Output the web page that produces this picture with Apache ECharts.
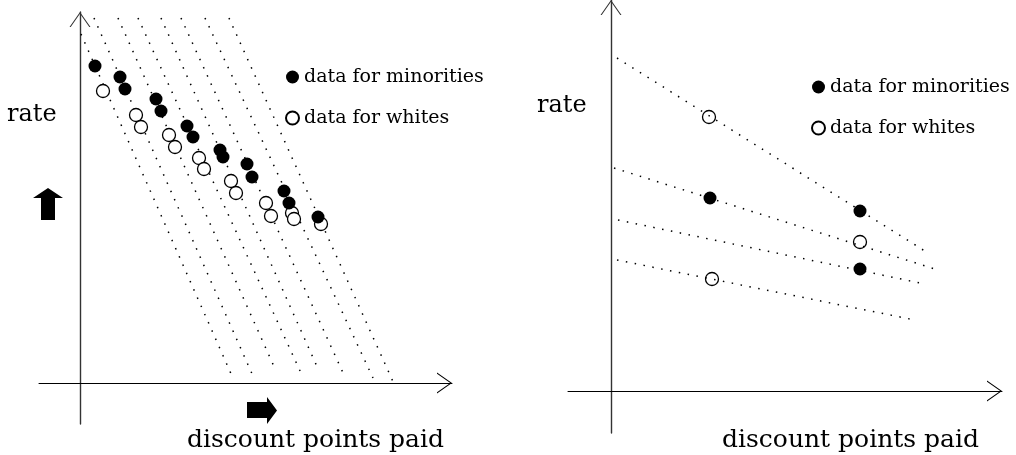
<!DOCTYPE html>
<html>
<head>
<meta charset="utf-8">
<script src="https://cdn.jsdelivr.net/npm/echarts@6/dist/echarts.min.js"></script>
<style>
  html, body { margin: 0; padding: 0; background: #fff; }
  #chart { width: 1016px; height: 455px; }
</style>
</head>
<body>
<div id="chart"></div>
<script>
// ---- Data (schematic units) ----
const legendNames = ['data for minorities', 'data for whites'];
const axisTitleX = 'discount points paid';
const axisTitleY = 'rate';

// Left panel: iso-price dotted lines [start, end]
const leftLines = [
  [[1, 349], [152, 7]],
  [[14, 365], [173, 7]],
  [[38, 365], [196, 12]],
  [[58, 365], [221, 10]],
  [[81, 365], [239, 12]],
  [[101, 365], [264, 8]],
  [[125, 365], [293, 5]],
  [[149, 365], [315, -3]]
];
const leftMinorities = [
  [15, 317], [40, 306], [45, 294], [76, 284], [81, 272], [107, 257], [113, 246],
  [140, 233], [143, 226], [167, 219], [172, 206], [204, 192], [209, 180], [238, 166]
];
const leftWhites = [
  [23, 292], [56, 268], [61, 256], [89, 248], [95, 236], [119, 225], [124, 214],
  [151, 202], [156, 190], [186, 180], [191, 167], [212, 170], [214, 164], [241, 159]
];

// Right panel
const rightLines = [
  [[6, 333], [317, 138]],
  [[3, 223], [327, 121]],
  [[7, 171], [314, 107]],
  [[6, 131], [304, 71]]
];
const rightMinorities = [[99, 193], [249, 180], [249, 122]];
const rightWhites = [[98, 274], [249, 149], [101, 112]];

// ---- Styling ----
const FONT = '"DejaVu Serif", serif';
const chevron = 'path://M0,30 L21,0 L42,30 L39.55,30 L21,3.5 L2.45,30 Z';

function axis(min, max, gridIndex, color, width) {
  return {
    type: 'value', gridIndex: gridIndex, min: min, max: max,
    axisLine: {
      show: true, onZero: true,
      symbol: ['none', chevron], symbolSize: [22, 15], symbolOffset: [0, -7.5],
      lineStyle: { color: color, width: width }
    },
    axisTick: { show: false }, axisLabel: { show: false }, splitLine: { show: false }
  };
}

function dottedSeries(lines, idx) {
  return lines.map(function (seg) {
    return {
      type: 'line', xAxisIndex: idx, yAxisIndex: idx, data: seg,
      symbol: 'none', silent: true, animation: false, z: 1,
      lineStyle: { color: '#000', width: 1.5, type: [1.5, 7.5] }
    };
  });
}

const series = []
  .concat(dottedSeries(leftLines, 0))
  .concat(dottedSeries(rightLines, 1))
  .concat([
    { name: legendNames[1], type: 'scatter', xAxisIndex: 0, yAxisIndex: 0, data: leftWhites,
      symbolSize: 13, z: 3, animation: false,
      itemStyle: { color: '#fff', borderColor: '#000', borderWidth: 1.3, opacity: 1 } },
    { name: legendNames[0], type: 'scatter', xAxisIndex: 0, yAxisIndex: 0, data: leftMinorities,
      symbolSize: 13, z: 4, animation: false,
      itemStyle: { color: '#000', borderColor: '#000', borderWidth: 0, opacity: 1 } },
    { name: legendNames[1], type: 'scatter', xAxisIndex: 1, yAxisIndex: 1, data: rightWhites,
      symbolSize: 13, z: 3, animation: false,
      itemStyle: { color: 'rgba(255,255,255,0)', borderColor: '#000', borderWidth: 1.3, opacity: 1 } },
    { name: legendNames[0], type: 'scatter', xAxisIndex: 1, yAxisIndex: 1, data: rightMinorities,
      symbolSize: 13, z: 4, animation: false,
      itemStyle: { color: '#000', borderColor: '#000', borderWidth: 0, opacity: 1 } }
  ]);

function legend(left, top) {
  return {
    show: true, orient: 'vertical', left: left, top: top, padding: 0,
    itemWidth: 13, itemHeight: 13, itemGap: 21, selectedMode: false,
    data: legendNames,
    textStyle: { fontFamily: FONT, fontSize: 19, color: '#000', lineHeight: 20 }
  };
}

function label(text, x, y, size) {
  return {
    type: 'text', x: x, y: y, silent: true,
    style: { text: text, fill: '#000', font: size + 'px ' + FONT, align: 'left', verticalAlign: 'middle' }
  };
}

const option = {
  backgroundColor: '#fff',
  animation: false,
  grid: [
    { left: 39, top: 12, width: 413, height: 412, containLabel: false },
    { left: 568, top: 0, width: 434, height: 433, containLabel: false }
  ],
  xAxis: [axis(-41, 372, 0, '#000', 1), axis(-43, 391, 1, '#000', 1)],
  yAxis: [axis(-41, 371, 0, '#333', 1.4), axis(-42, 391, 1, '#333', 1.4)],
  legend: [legend(285, 67), legend(811, 77)],
  tooltip: { show: false },
  series: series,
  graphic: [
    label(axisTitleY, 7, 114.5, 24),
    label(axisTitleX, 187, 440, 25),
    label(axisTitleY, 537, 105.5, 24),
    label(axisTitleX, 722, 440, 25),
    { type: 'polygon', silent: true,
      shape: { points: [[48,188],[63,198],[55,198],[55,220],[41,220],[41,198],[33,198]] },
      style: { fill: '#000' } },
    { type: 'polygon', silent: true,
      shape: { points: [[277,410.5],[267,397],[267,402],[247,402],[247,418],[267,418],[267,424]] },
      style: { fill: '#000' } }
  ]
};

const chart = echarts.init(document.getElementById('chart'), null, { renderer: 'canvas' });
chart.setOption(option);
</script>
</body>
</html>
